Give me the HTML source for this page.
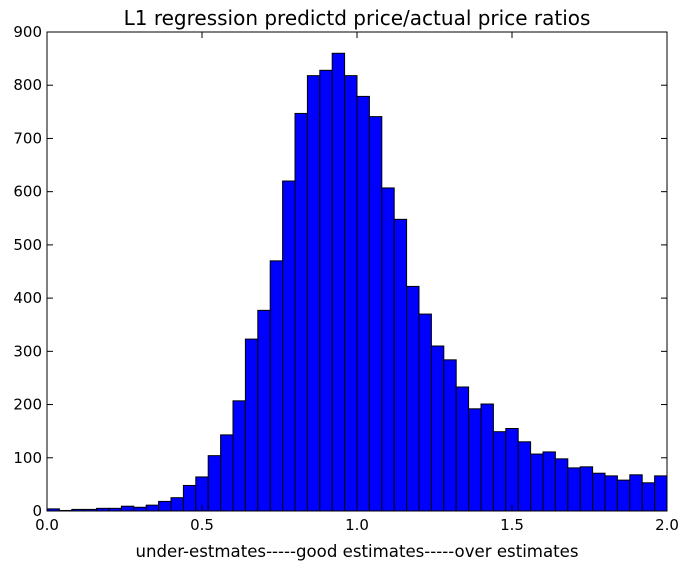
<!DOCTYPE html>
<html><head><meta charset="utf-8"><style>
body{margin:0;background:#fff;}
svg text{font-family:"DejaVu Sans","Liberation Sans",sans-serif;}
</style></head><body>
<svg id="chart" width="690" height="570" xmlns="http://www.w3.org/2000/svg">
<text x="357" y="25" font-size="20" text-anchor="middle">L1 regression predictd price/actual price ratios</text>
<text x="357" y="557" font-size="16.6" text-anchor="middle">under-estmates-----good estimates-----over estimates</text>
<g id="bars"></g>
<g id="ticks"></g>
<rect x="47" y="32" width="620" height="479" fill="none" stroke="#000" stroke-width="1"/>
</svg>
<script>
const counts=[4,1,3,3,5,5,9,7,11,18,25,48,64,104,143,207,323,377,470,620,747,818,828,860,818,779,741,607,548,422,370,310,284,233,192,201,149,155,130,107,111,98,81,83,71,66,58,68,53,66];
const binStart=0, binWidth=0.04;
const xTicks=[0,0.5,1.0,1.5,2.0];
const xTickLabels=["0.0","0.5","1.0","1.5","2.0"];
const yTicks=[0,100,200,300,400,500,600,700,800,900];
const L=47,R=667,T=32,B=511,xMax=2,yMax=900;
const xs=v=>L+(v/xMax)*(R-L), ys=v=>B-(v/yMax)*(B-T);
const NS="http://www.w3.org/2000/svg";
const bars=document.getElementById('bars'), ticks=document.getElementById('ticks');
counts.forEach((c,i)=>{
 const x0=xs(binStart+i*binWidth), x1=xs(binStart+(i+1)*binWidth);
 const r=document.createElementNS(NS,'rect');
 r.setAttribute('x',x0);r.setAttribute('y',ys(c));r.setAttribute('width',x1-x0);r.setAttribute('height',B-ys(c));
 r.setAttribute('fill','#0000ff');r.setAttribute('stroke','#000');r.setAttribute('stroke-width','1');
 
 
 bars.appendChild(r);
});
function line(x1,y1,x2,y2){const l=document.createElementNS(NS,'line');l.setAttribute('x1',x1);l.setAttribute('y1',y1);l.setAttribute('x2',x2);l.setAttribute('y2',y2);l.setAttribute('stroke','#000');ticks.appendChild(l);return l;}
function text(x,y,s,anchor,name){const t=document.createElementNS(NS,'text');t.setAttribute('x',x);t.setAttribute('y',y);t.setAttribute('font-size','15');t.setAttribute('text-anchor',anchor);t.textContent=s;
 
 
 ticks.appendChild(t);}
xTicks.forEach((v,i)=>{const x=xs(v);line(x,B,x,B-6);line(x,T,x,T+6);text(x,B+19,xTickLabels[i],'middle','x-tick-label');});
yTicks.forEach(v=>{const y=ys(v);line(L,y,L+6,y);line(R,y,R-6,y);text(L-5,y+5,String(v),'end','y-tick-label');});
</script>
</body></html>
